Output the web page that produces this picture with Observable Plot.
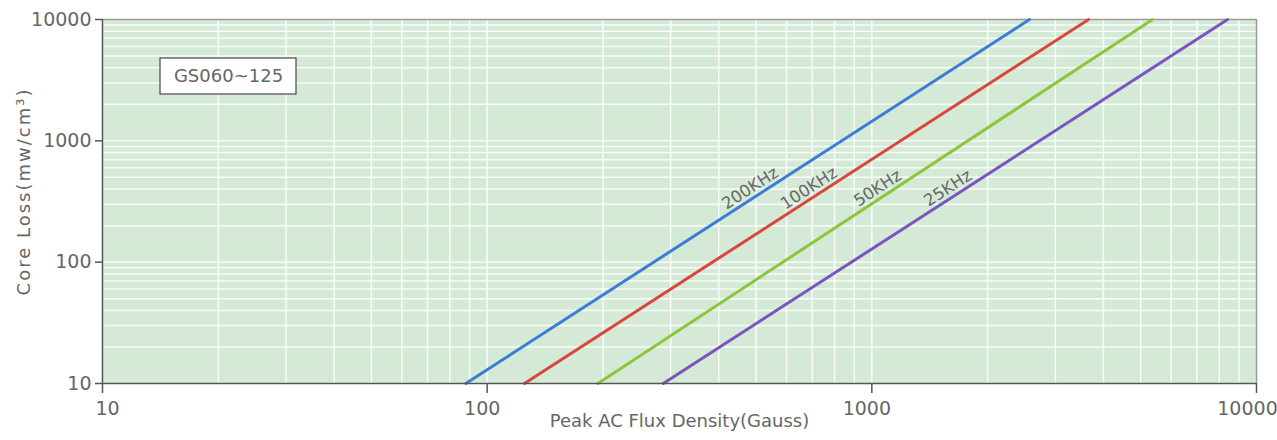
<!DOCTYPE html>
<html>
<head>
<meta charset="utf-8">
<script src="https://cdn.jsdelivr.net/npm/d3@7"></script>
<script src="https://cdn.jsdelivr.net/npm/@observablehq/plot@0.6"></script>
<style>
  body { margin: 0; background: #fff; }
  #chart svg { display: block; }
</style>
</head>
<body>
<div id="chart"></div>
<script>
// Core loss vs. peak AC flux density, one curve per frequency
const frequencies = ["200KHz", "100KHz", "50KHz", "25KHz"];
const lossRange = [10, 10000];          // mW/cm³ at the two ends of each curve
const fluxAtMinLoss = [88, 125, 194, 287];     // Gauss where loss = 10
const fluxAtMaxLoss = [2570, 3660, 5370, 8410]; // Gauss where loss = 10000
const xTicks = [10, 100, 1000, 10000];
const yTicks = [10, 100, 1000, 10000];
const materialLabel = "GS060~125";
const xTitle = "Peak AC Flux Density(Gauss)";
const yTitle = "Core Loss(mw/cm³)";
const labelLoss = 330; // loss level at which each frequency tag is placed

const colors = ["#3b7dd6", "#d9473b", "#8cc63e", "#7a55c0"];
const textColor = "#666";
const axisColor = "#555";

const curves = frequencies.flatMap((f, i) => [
  {freq: f, flux: fluxAtMinLoss[i], loss: lossRange[0]},
  {freq: f, flux: fluxAtMaxLoss[i], loss: lossRange[1]}
]);

// tag position: point on the (log-log straight) curve at labelLoss
const lg = Math.log10;
const tags = frequencies.map((f, i) => {
  const t = (lg(labelLoss) - lg(lossRange[0])) / (lg(lossRange[1]) - lg(lossRange[0]));
  const flux = 10 ** (lg(fluxAtMinLoss[i]) + t * (lg(fluxAtMaxLoss[i]) - lg(fluxAtMinLoss[i])));
  return {freq: f, flux, loss: labelLoss};
});

const xDomain = [xTicks[0], xTicks[xTicks.length - 1]];
const yDomain = [yTicks[0], yTicks[yTicks.length - 1]];
const gridX = d3.scaleLog().domain(xDomain).ticks();
const gridY = d3.scaleLog().domain(yDomain).ticks();

// white label box in the upper-left corner of the frame
const labelBox = (index, scales, values, dims) => {
  const ns = "http://www.w3.org/2000/svg";
  const r = document.createElementNS(ns, "rect");
  r.setAttribute("x", dims.marginLeft + 58);
  r.setAttribute("y", dims.marginTop + 39);
  r.setAttribute("width", 136);
  r.setAttribute("height", 36);
  r.setAttribute("fill", "#fff");
  r.setAttribute("stroke", "#555");
  r.setAttribute("stroke-width", 1.3);
  return r;
};

// x tick labels: the outer ones are nudged inward so they stay on the page
const xLabel = (values, dx) => Plot.text(values, {
  x: d => d, text: d => String(d), frameAnchor: "bottom", dy: 31, dx,
  fontSize: 19, fill: textColor
});

const chart = Plot.plot({
  width: 1277,
  height: 440,
  marginLeft: 102,
  marginRight: 21,
  marginTop: 19,
  marginBottom: 57,
  style: {fontFamily: "'DejaVu Sans', sans-serif", color: textColor, background: "#fff"},
  x: {type: "log", domain: xDomain},
  y: {type: "log", domain: yDomain},
  color: {domain: frequencies, range: colors},
  marks: [
    Plot.frame({fill: "#d4ead6", stroke: null}),
    Plot.ruleX(gridX, {stroke: "#fff", strokeWidth: 1.5, strokeOpacity: 0.85}),
    Plot.ruleY(gridY, {stroke: "#fff", strokeWidth: 1.5, strokeOpacity: 0.85}),
    Plot.ruleY([yDomain[1]], {stroke: "#999", strokeWidth: 1.5}),
    Plot.ruleX([xDomain[1]], {stroke: "#999", strokeWidth: 1.5}),
    Plot.line(curves, {x: "flux", y: "loss", z: "freq", stroke: "freq", strokeWidth: 3}),
    Plot.text(tags, {x: "flux", y: "loss", text: "freq", rotate: -33, dx: -1, dy: -11,
                     fontSize: 16.5, fill: textColor}),
    Plot.ruleX([xDomain[0]], {stroke: axisColor, strokeWidth: 1.5}),
    Plot.ruleY([yDomain[0]], {stroke: axisColor, strokeWidth: 1.5}),
    Plot.axisX(xTicks, {tickSize: 10, label: null, tickFormat: () => "",
                        stroke: axisColor, strokeWidth: 1.5}),
    xLabel(xTicks.slice(0, 1), 5),
    xLabel(xTicks.slice(1, -1), -5),
    xLabel(xTicks.slice(-1), -9),
    Plot.axisY(yTicks, {tickSize: 7, tickPadding: 4, fontSize: 19, label: null,
                        tickFormat: d => String(d), stroke: axisColor, strokeWidth: 1.5, fill: textColor}),
    Plot.text([xTitle], {frameAnchor: "bottom", dy: 43, fontSize: 18, fill: textColor}),
    Plot.text([yTitle], {frameAnchor: "left", dx: -78, dy: -10, rotate: -90,
                         textAnchor: "middle", lineAnchor: "middle", fontSize: 18, fill: textColor}),
    labelBox,
    Plot.text([materialLabel], {frameAnchor: "top-left", dx: 126, dy: 57, textAnchor: "middle",
                                lineAnchor: "middle", fontSize: 18, fill: textColor})
  ]
});

// the vertical title is set with a little extra tracking
for (const t of chart.querySelectorAll("text")) {
  if (t.textContent === yTitle) t.style.letterSpacing = "2px";
}

document.getElementById("chart").append(chart);
</script>
</body>
</html>
